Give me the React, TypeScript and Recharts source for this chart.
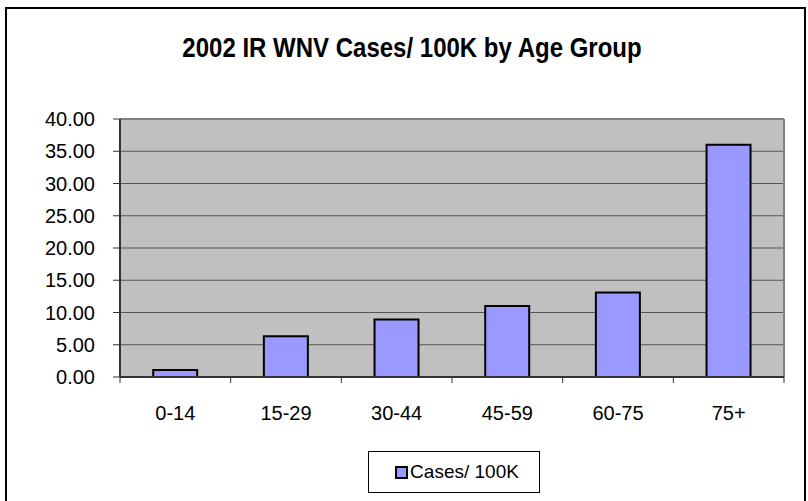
import { Bar, BarChart, CartesianGrid, Legend, ReferenceLine, XAxis, YAxis } from 'recharts'

const AGE_GROUPS = ['0-14', '15-29', '30-44', '45-59', '60-75', '75+']
const CASES_PER_100K = [1.1, 6.3, 8.9, 11.0, 13.1, 36.0]
const Y_TICKS = [0, 5, 10, 15, 20, 25, 30, 35, 40]
const SERIES_NAME = 'Cases/ 100K'
const TITLE = '2002 IR WNV Cases/ 100K by Age Group'

const data = AGE_GROUPS.map((group, i) => ({ group, value: CASES_PER_100K[i] }))

const FONT = 'Arial, "Liberation Sans", sans-serif'
const BAR_FILL = '#9999FF'
const PLOT_LEFT = 120
const PLOT_RIGHT = 784
const BAND = (PLOT_RIGHT - PLOT_LEFT) / AGE_GROUPS.length
const TICK_GAP = 29

function CategoryTick({ x, y, payload, index }: any) {
  const axisY = y - TICK_GAP
  const last = index === AGE_GROUPS.length - 1
  return (
    <g>
      <line x1={x - BAND / 2} x2={x - BAND / 2} y1={axisY} y2={axisY + 6} stroke="#333" strokeWidth={1} />
      {last && <line x1={x + BAND / 2} x2={x + BAND / 2} y1={axisY} y2={axisY + 6} stroke="#333" strokeWidth={1} />}
      <text x={x} y={y} dy="0.71em" textAnchor="middle" fontSize={20} fontFamily={FONT} fill="#000">
        {payload.value}
      </text>
    </g>
  )
}

function LegendBox() {
  return (
    <div
      style={{
        boxSizing: 'border-box',
        width: '100%',
        height: '100%',
        border: '1px solid #000',
        background: '#fff',
        display: 'flex',
        alignItems: 'center',
        justifyContent: 'center',
        fontFamily: FONT,
        fontSize: 19,
        color: '#000',
        paddingLeft: 6,
      }}
    >
      <span
        style={{
          display: 'inline-block',
          boxSizing: 'border-box',
          width: 13,
          height: 13,
          background: BAR_FILL,
          border: '2px solid #000',
          marginRight: 2,
        }}
      />
      {SERIES_NAME}
    </div>
  )
}

export default function App() {
  return (
    <div style={{ position: 'absolute', left: 0, top: 0, width: 808, height: 501, overflow: 'hidden', background: '#fff' }}>
      <div
        style={{
          position: 'absolute',
          left: 5,
          top: 7,
          width: 801,
          height: 510,
          border: '2px solid #000',
          boxSizing: 'border-box',
        }}
      />
      <div
        style={{
          position: 'absolute',
          left: 0,
          top: 35,
          width: 824,
          textAlign: 'center',
          fontFamily: FONT,
          fontWeight: 'bold',
          fontSize: 24,
          lineHeight: '27px',
          transform: 'scaleY(1.18)',
          transformOrigin: '50% 22px',
          color: '#000',
          whiteSpace: 'nowrap',
        }}
      >
        {TITLE}
      </div>
      <div style={{ position: 'absolute', left: 0, top: 0 }}>
        <BarChart
          width={808}
          height={501}
          data={data}
          margin={{ top: 119, right: 808 - PLOT_RIGHT, bottom: 94, left: 0 }}
          barCategoryGap="30%"
        >
          <CartesianGrid vertical={false} fill="#C0C0C0" stroke="#555" strokeWidth={1} />
          <XAxis
            dataKey="group"
            height={30}
            tickLine={false}
            tickSize={0}
            tickMargin={TICK_GAP}
            axisLine={{ stroke: '#333', strokeWidth: 2 }}
            tick={<CategoryTick />}
            interval={0}
          />
          <YAxis
            width={PLOT_LEFT}
            domain={[0, 40]}
            ticks={Y_TICKS}
            tickFormatter={(v: number) => v.toFixed(2)}
            tickSize={7}
            tickMargin={18}
            tickLine={{ stroke: '#333' }}
            axisLine={{ stroke: '#333', strokeWidth: 2 }}
            tick={{ fontSize: 20, fontFamily: FONT, fill: '#000' }}
            interval={0}
          />
          <ReferenceLine y={40} stroke="#808080" strokeWidth={2} />
          <ReferenceLine x="75+" position="end" stroke="#808080" strokeWidth={2} />
          <Legend
            layout="horizontal"
            verticalAlign="middle"
            align="center"
            wrapperStyle={{ top: 451, left: 368, width: 172, height: 42 }}
            content={() => <LegendBox />}
          />
          <Bar
            dataKey="value"
            name={SERIES_NAME}
            fill={BAR_FILL}
            stroke="#000"
            strokeWidth={2}
            isAnimationActive={false}
          />
        </BarChart>
      </div>
    </div>
  )
}
